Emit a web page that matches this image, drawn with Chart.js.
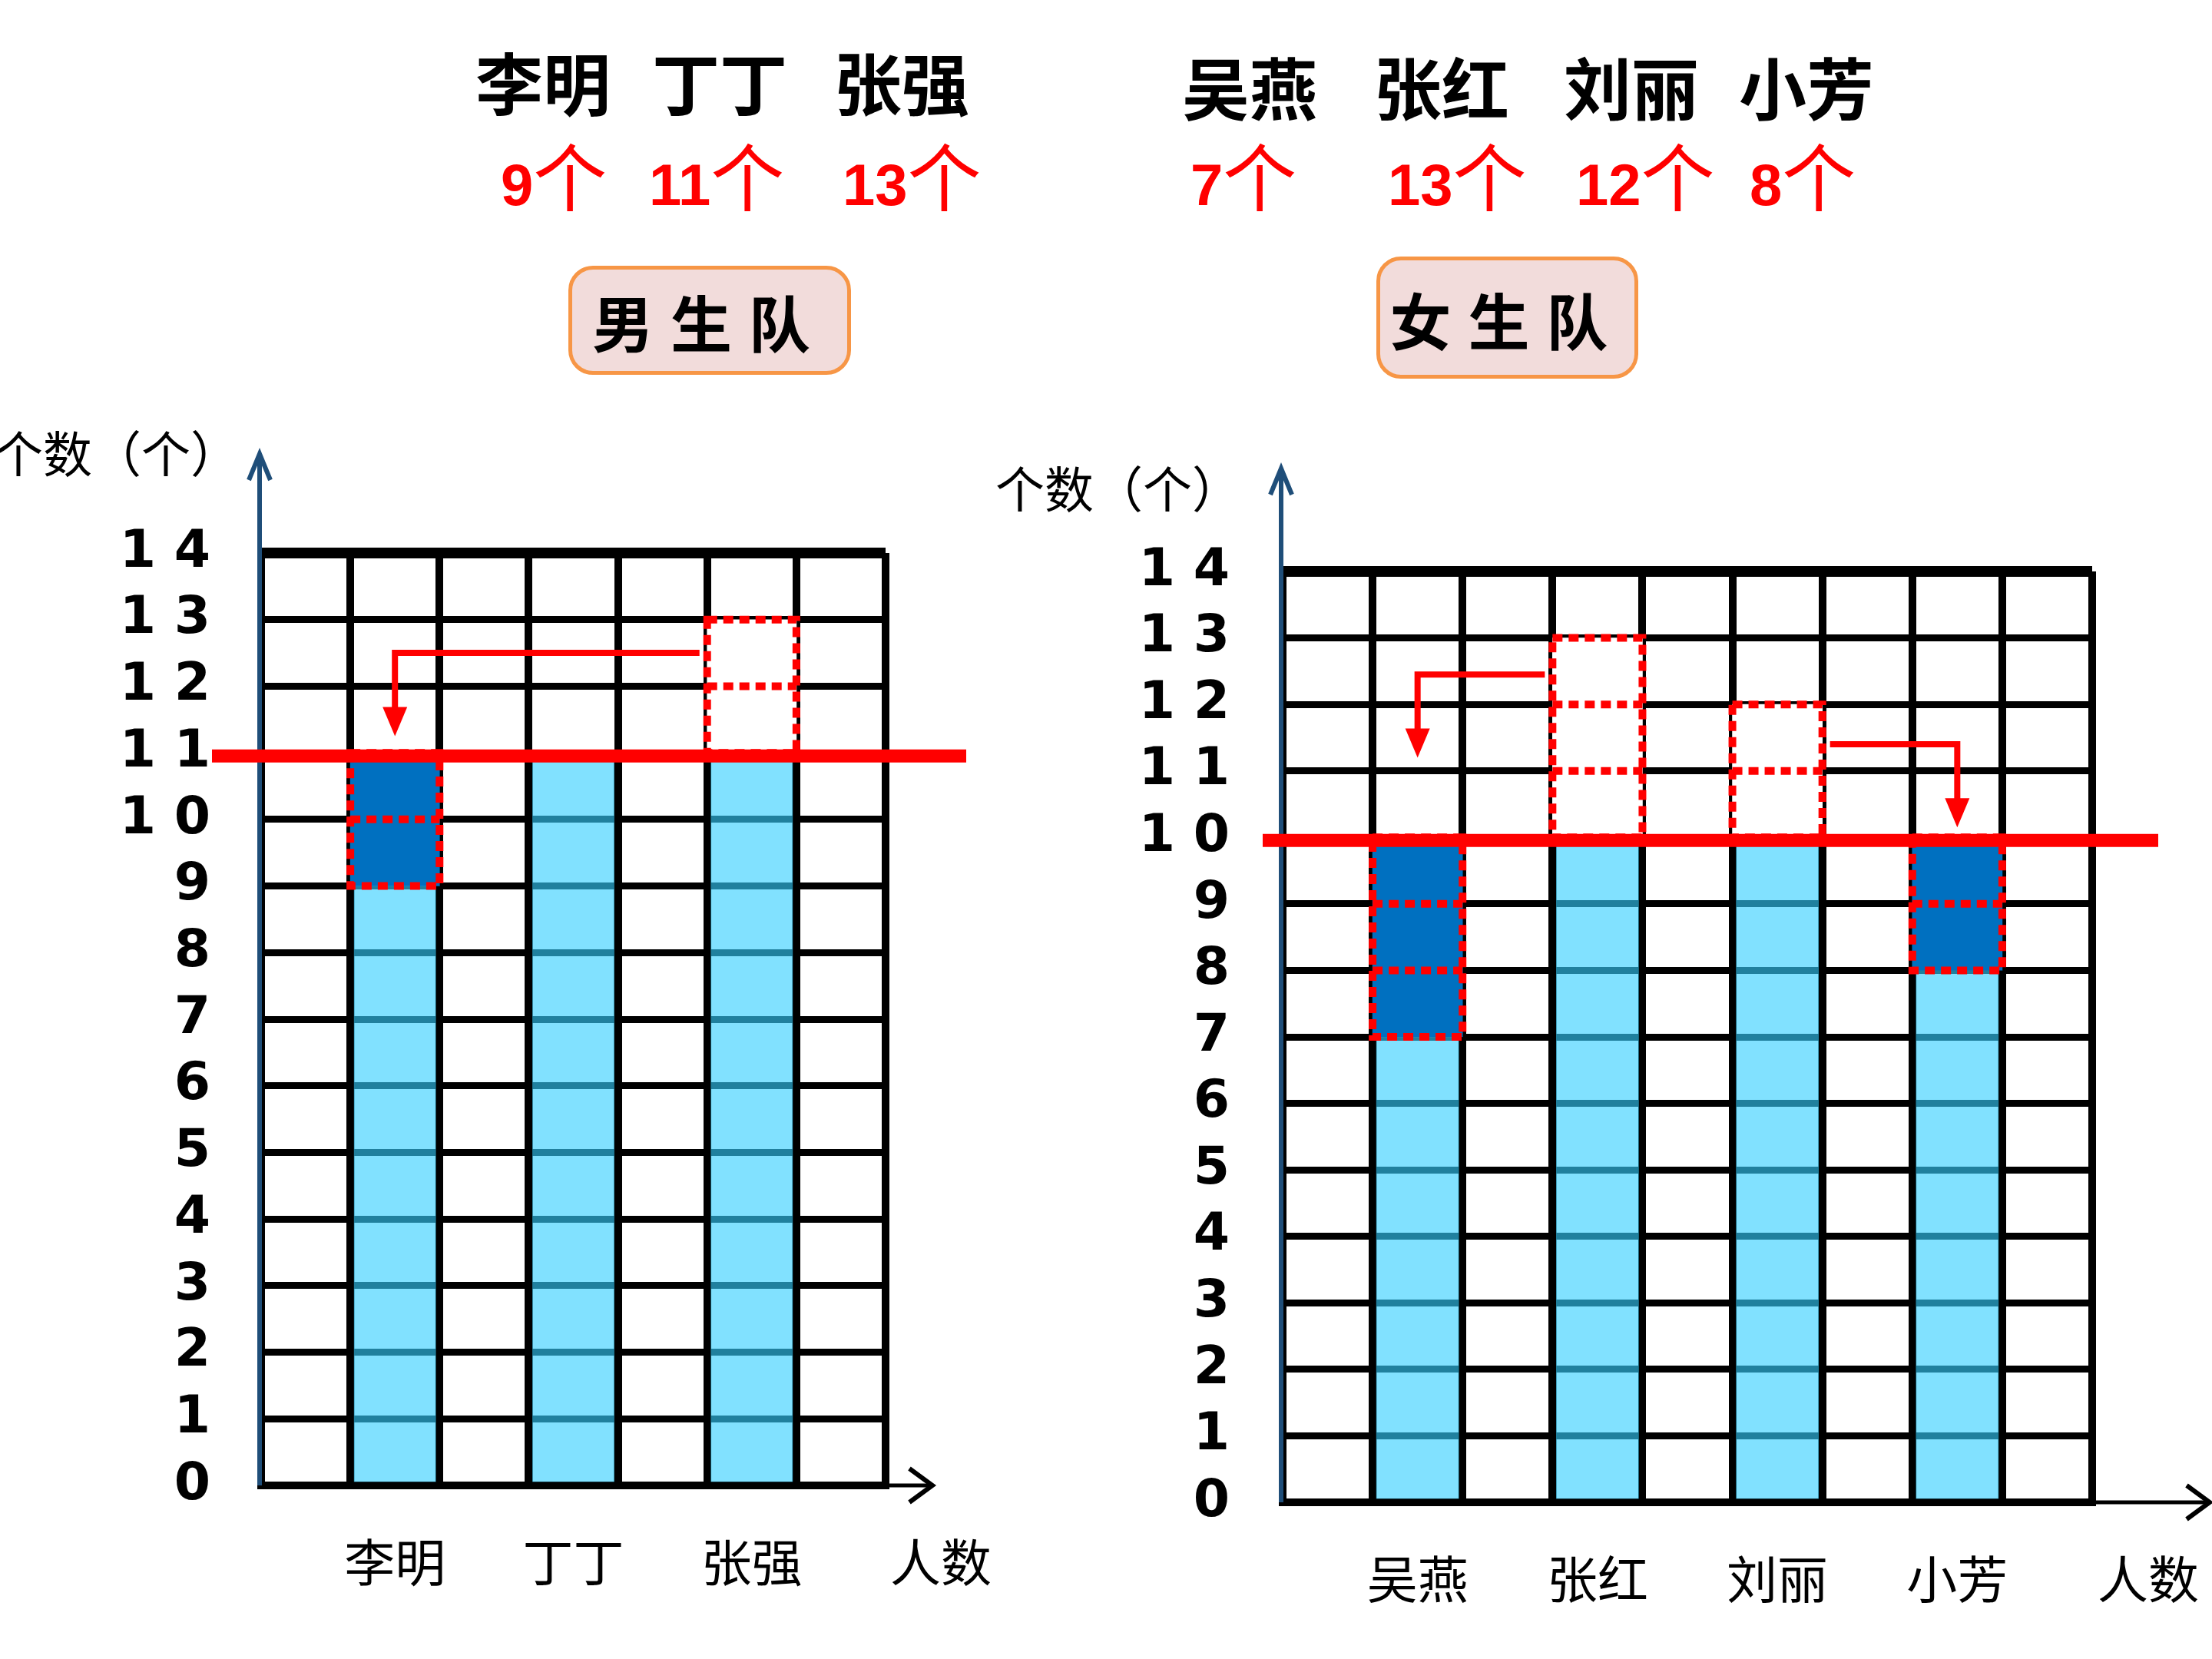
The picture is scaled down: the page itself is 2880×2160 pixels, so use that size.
<!DOCTYPE html>
<html>
<head>
<meta charset="utf-8">
<script src="https://cdn.jsdelivr.net/npm/chart.js@4/dist/chart.umd.min.js"></script>
<style>
  body { margin: 0; width: 2880px; height: 2160px; background: #fff; position: relative; overflow: hidden; font-family: "Noto Sans CJK SC"; }
  .name { position: absolute; font-weight: 700; font-size: 88px; line-height: 88px; transform: translateX(-50%); white-space: nowrap; }
  .cnt { position: absolute; color: #f00; white-space: nowrap; font-size: 96px; line-height: 92px; }
  .cnt b { font-family: "Liberation Sans"; font-size: 76px; font-weight: 700; }
  .team { position: absolute; box-sizing: border-box; background: #f2dcdb; border: 5px solid #f79646; border-radius: 32px;
          display: flex; align-items: center; justify-content: center; font-size: 80px; font-weight: 700; letter-spacing: 22px; }
  canvas { position: absolute; }
</style>
</head>
<body>
<div class="team" style="left:740px;top:346px;width:368px;height:142px">男生队</div>
<div class="team" style="left:1792px;top:334px;width:341px;height:159px">女生队</div>
<canvas id="boys" width="1320" height="1620" style="left:0;top:540px;width:1320px;height:1620px"></canvas>
<canvas id="girls" width="1610" height="1620" style="left:1270px;top:540px;width:1610px;height:1620px"></canvas>
<script>
const yMax = 14;
const xTitle = "人数";
const yTitle = "个数（个）";

const boysNames = ["李明", "丁丁", "张强"];
const boysCounts = [9, 11, 13];
const boysAverage = 11;
// [from, to, arrow level, arrow tip]
const boysMoves = [["张强", "李明", 12.5, 11.25]];

const girlsNames = ["吴燕", "张红", "刘丽", "小芳"];
const girlsCounts = [7, 13, 12, 8];
const girlsAverage = 10;
const girlsMoves = [["张红", "吴燕", 12.45, 11.2], ["刘丽", "小芳", 11.4, 10.15]];

// header placement
const boysNameX = [707, 937, 1174];
const girlsNameX = [1627, 1877, 2124, 2352];
const boysCountX = [652, 845, 1097];
const girlsCountX = [1550, 1807, 2052, 2278];

function header(names, counts, nameX, countX, nameTop) {
  names.forEach((n, i) => {
    const d = document.createElement("div");
    d.className = "name";
    d.style.left = nameX[i] + "px";
    d.style.top = nameTop + "px";
    d.textContent = n;
    document.body.appendChild(d);

    const c = document.createElement("div");
    c.className = "cnt";
    c.style.left = countX[i] + "px";
    c.style.top = "180px";
    c.innerHTML = "<b>" + counts[i] + "</b>个";
    document.body.appendChild(c);
  });
}
header(boysNames, boysCounts, boysNameX, boysCountX, 61);
header(girlsNames, girlsCounts, girlsNameX, girlsCountX, 67);

// dotted red boxes around moved units
const dottedBoxes = {
  id: "dottedBoxes",
  afterDatasetsDraw(chart) {
    const ctx = chart.ctx;
    const y = chart.scales.y;
    ctx.save();
    ctx.strokeStyle = "#f00";
    ctx.lineWidth = 10;
    ctx.setLineDash([13, 8]);
    chart.data.datasets.forEach((ds, i) => {
      if (!ds.dotted) return;
      chart.getDatasetMeta(i).data.forEach((bar, j) => {
        if (!ds.data[j]) return;
        const p = bar.getProps(["x", "y", "base", "width"], true);
        const l = p.x - p.width / 2, r = p.x + p.width / 2;
        ctx.strokeRect(l, p.y, r - l, p.base - p.y);
        const lo = Math.round(y.getValueForPixel(p.base));
        const hi = Math.round(y.getValueForPixel(p.y));
        for (let v = lo + 1; v < hi; v++) {
          const py = y.getPixelForValue(v);
          ctx.beginPath();
          ctx.moveTo(l, py);
          ctx.lineTo(r, py);
          ctx.stroke();
        }
      });
    });
    ctx.restore();
  }
};

// axes arrows, average line, move arrows, titles
const decor = {
  id: "decor",
  afterDraw(chart, args, o) {
    const { ctx, chartArea: a, scales: { x, y } } = chart;
    const col = (a.right - a.left) / chart.data.labels.length;
    ctx.save();

    // y axis
    const ax = a.left - 2, top = a.top - o.yArrow;
    ctx.strokeStyle = "#1f4e79";
    ctx.lineWidth = 6;
    ctx.beginPath();
    ctx.moveTo(ax, a.bottom);
    ctx.lineTo(ax, top);
    ctx.stroke();
    ctx.lineWidth = 6;
    ctx.beginPath();
    ctx.moveTo(ax - 14, top + 34);
    ctx.lineTo(ax, top);
    ctx.lineTo(ax + 14, top + 34);
    ctx.stroke();

    // x axis extension
    const tip = a.right + o.xArrow;
    ctx.strokeStyle = "#000";
    ctx.lineWidth = 5;
    ctx.beginPath();
    ctx.moveTo(a.right, a.bottom);
    ctx.lineTo(tip, a.bottom);
    ctx.stroke();
    ctx.lineWidth = 6;
    ctx.beginPath();
    ctx.moveTo(tip - 30, a.bottom - 22);
    ctx.lineTo(tip, a.bottom);
    ctx.lineTo(tip - 30, a.bottom + 22);
    ctx.stroke();

    // average line
    const ay = y.getPixelForValue(o.avg) + 4;
    ctx.strokeStyle = "#f00";
    ctx.lineWidth = 17;
    ctx.beginPath();
    ctx.moveTo(a.left - o.avgLeft, ay);
    ctx.lineTo(a.right + o.avgRight, ay);
    ctx.stroke();

    // move arrows
    ctx.lineWidth = 8;
    ctx.fillStyle = "#f00";
    o.moves.forEach(([from, to, level, end]) => {
      const fx = x.getPixelForValue(chart.data.labels.indexOf(from));
      const tx = x.getPixelForValue(chart.data.labels.indexOf(to));
      const sx = fx + (tx < fx ? -1 : 1) * (col / 2 + 10);
      const ly = y.getPixelForValue(level), ey = y.getPixelForValue(end);
      ctx.beginPath();
      ctx.moveTo(sx, ly);
      ctx.lineTo(tx, ly);
      ctx.lineTo(tx, ey - 30);
      ctx.stroke();
      ctx.beginPath();
      ctx.moveTo(tx - 16, ey - 38);
      ctx.lineTo(tx + 16, ey - 38);
      ctx.lineTo(tx, ey);
      ctx.closePath();
      ctx.fill();
    });

    // titles
    ctx.fillStyle = "#000";
    ctx.textBaseline = "middle";
    ctx.font = '64px "Noto Sans CJK SC"';
    ctx.textAlign = "right";
    ctx.fillText(yTitle, a.left - o.yTitleDx, a.top - o.yTitleDy);
    ctx.font = '66px "Noto Sans CJK SC"';
    ctx.textAlign = "center";
    ctx.fillText(xTitle, a.right + o.xTitleDx, a.bottom + 100);
    ctx.restore();
  }
};

function columns(names) {
  const c = [""];
  names.forEach((n) => c.push(n, ""));
  return c;
}

function perColumn(counts, f) {
  const out = [null];
  counts.forEach((v) => out.push(f(v), null));
  return out;
}

function makeChart(id, names, counts, avg, moves, L) {
  return new Chart(document.getElementById(id), {
    type: "bar",
    data: {
      labels: columns(names),
      datasets: [
        {
          data: perColumn(counts, (v) => Math.min(v, avg)),
          backgroundColor: "rgba(52, 206, 255, 0.62)",
          borderColor: "#000",
          borderWidth: { left: 5, right: 5, top: 0, bottom: 0 },
          borderSkipped: false,
        },
        {
          data: perColumn(counts, (v) => Math.max(avg - v, 0)),
          backgroundColor: "#0070c0",
          borderWidth: 0,
          dotted: true,
        },
        {
          data: perColumn(counts, (v) => Math.max(v - avg, 0)),
          backgroundColor: "#fff",
          borderWidth: 0,
          dotted: true,
        },
      ],
    },
    options: {
      responsive: false,
      animation: false,
      devicePixelRatio: 1,
      barPercentage: 1,
      categoryPercentage: 1,
      layout: { padding: { left: 0, top: L.top, right: L.right, bottom: 0 } },
      plugins: {
        legend: { display: false },
        tooltip: { enabled: false },
        decor: { avg, moves, ...L },
      },
      scales: {
        x: {
          stacked: true,
          offset: true,
          grid: { offset: true, color: "#000", lineWidth: 10, drawTicks: false },
          border: { color: "#000", width: 10 },
          ticks: {
            color: "#000",
            font: { family: "Noto Sans CJK SC", size: 66 },
            padding: 60,
            maxRotation: 0,
            autoSkip: false,
          },
          afterFit: (s) => { s.height = L.xHeight; },
        },
        y: {
          stacked: true,
          min: 0,
          max: yMax,
          grid: {
            color: "#000",
            lineWidth: (c) => (c.tick && c.tick.value === yMax ? 14 : 9),
            drawTicks: false,
          },
          border: { display: false },
          ticks: {
            stepSize: 1,
            color: "#000",
            font: { family: "DejaVu Sans", size: 68, weight: "bold" },
            padding: L.tickPad,
            callback: (v) => String(v).split("").join(" "),
          },
          afterFit: (s) => { s.width = L.yWidth; },
        },
      },
    },
    plugins: [dottedBoxes, decor],
  });
}

makeChart("boys", boysNames, boysCounts, boysAverage, boysMoves, {
  top: 180, right: 167, xHeight: 226, yWidth: 340, tickPad: 66,
  yArrow: 129, xArrow: 61, avgLeft: 64, avgRight: 105,
  yTitleDx: 28, yTitleDy: 129, xTitleDx: 72,
});

makeChart("girls", girlsNames, girlsCounts, girlsAverage, girlsMoves, {
  top: 204, right: 156, xHeight: 204, yWidth: 400, tickPad: 69,
  yArrow: 134, xArrow: 153, avgLeft: 26, avgRight: 86,
  yTitleDx: 54, yTitleDy: 107, xTitleDx: 73,
});
</script>
</body>
</html>
